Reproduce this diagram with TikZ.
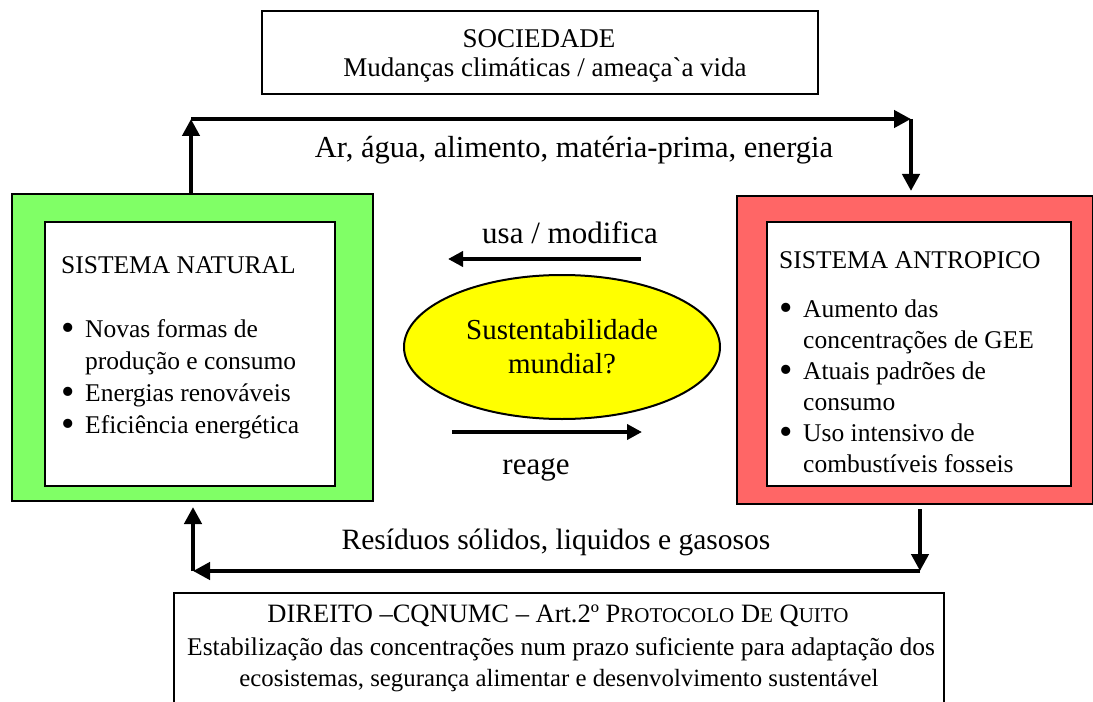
\documentclass[tikz,border=0pt]{standalone}
\usepackage{fontspec}
\setmainfont{Liberation Serif}
\usetikzlibrary{arrows.meta,shapes.geometric}
\definecolor{natgreen}{RGB}{128,255,102}
\definecolor{antred}{RGB}{255,102,102}
\definecolor{sustyellow}{RGB}{255,255,0}
\newcommand{\fsz}[2]{\fontsize{#1bp}{#2bp}\selectfont}
\newcommand{\minisc}[1]{{\fontsize{21bp}{21bp}\selectfont #1}}
\newcommand{\bigbul}{\raisebox{-3.2bp}[0pt][0pt]{\scalebox{1.5}{\textbullet}}}
\begin{document}
\begin{tikzpicture}[x=1bp,y=-1bp,
  box/.style={draw,line width=2bp,inner sep=0,anchor=north west},
  conn/.style={line width=4.5bp,-{Triangle[length=17bp,width=17bp]}},
  midarrow/.style={line width=4bp,-{Triangle[length=15bp,width=15bp]}},
  txt/.style={inner sep=0,anchor=base}]
\useasboundingbox (0,0) rectangle (1093,702);
\clip (0,0) rectangle (1093,702);
\fill[white] (0,0) rectangle (1093,702);

% boxes
\node[box,minimum width=556bp,minimum height=83bp] (soc) at (261,10) {};
\node[box,fill=natgreen,minimum width=361bp,minimum height=307bp] (nat) at (11,193) {};
\node[box,fill=white,minimum width=290bp,minimum height=264bp] (natin) at (44,221) {};
\node[box,fill=antred,minimum width=356bp,minimum height=308bp] (ant) at (736,195) {};
\node[box,fill=white,minimum width=304bp,minimum height=264bp] (antin) at (766,221) {};
\node[box,minimum width=770bp,minimum height=130bp] (dir) at (173,592) {};
\node[ellipse,draw,line width=2bp,fill=sustyellow,minimum width=316bp,minimum height=144bp,
      inner sep=0,align=center,font=\fsz{29}{34}] (sust) at (562,347) {Sustentabilidade\\mundial?};

% texts in boxes
\node[txt] (socT1) at (539,48) {\fsz{27}{30}SOCIEDADE};
\node[txt] (socT2) at (545,77) {\fsz{27}{30}Mudanças climáticas / ameaça\textasciigrave a vida};

\node[anchor=base west,inner sep=0] (natT) at (61,273) {\fsz{25.5}{32}%
\begin{tabular}[t]{@{}l@{}l@{}}
\multicolumn{2}{@{}l@{}}{SISTEMA NATURAL}\\[32bp]
\makebox[24bp][l]{\bigbul} & Novas formas de\\
 & produção e consumo\\
\bigbul & Energias renováveis\\
\bigbul & Eficiência energética
\end{tabular}};

\node[anchor=base west,inner sep=0] (antT) at (779,268) {\fsz{25.5}{31}%
\begin{tabular}[t]{@{}l@{}l@{}}
\multicolumn{2}{@{}l@{}}{SISTEMA ANTROPICO}\\[18bp]
\makebox[24bp][l]{\bigbul} & Aumento das\\
 & concentrações de GEE\\
\bigbul & Atuais padrões de\\
 & consumo\\
\bigbul & Uso intensivo de\\
 & combustíveis fosseis
\end{tabular}};

\node[txt] (dirT1) at (558,622) {\fsz{26.5}{32}DIREITO –CQNUMC – Art.2º P\minisc{ROTOCOLO} D\minisc{E} Q\minisc{UITO}};
\node[txt] (dirT2) at (561,655) {\fsz{25.5}{32}Estabilização das concentrações num prazo suficiente para adaptação dos};
\node[txt] (dirT3) at (559,686) {\fsz{24.8}{32}ecosistemas, segurança alimentar e desenvolvimento sustentável};

% connector labels
\node[txt] (flowT) at (574,158) {\fsz{30.5}{34}Ar, água, alimento, matéria-prima, energia};
\node[txt] (resT) at (556,549) {\fsz{29.5}{34}Resíduos sólidos, liquidos e gasosos};
\node[txt] (usaT) at (570,243) {\fsz{31}{34}usa / modifica};
\node[txt] (reaT) at (536,474) {\fsz{31}{34}reage};

% connectors
\coordinate (tl) at (191,119);
\coordinate (tr) at (911,119);
\coordinate (br) at (920,571);
\coordinate (bl) at (193,571);
\draw[conn] (nat.north -| tl) -- (tl);
\draw[conn] (tl) -- (tr);
\draw[conn,shorten >=4bp] (tr) -- (tr |- ant.north);
\draw[conn,shorten <=4bp] (ant.south -| br) -- (br);
\draw[conn] (br) -- (bl);
\draw[conn,shorten >=5bp] (bl) -- (bl |- nat.south);

\coordinate (umA) at (641,259);
\coordinate (umB) at (448,259);
\coordinate (rgA) at (452,432);
\coordinate (rgB) at (642,432);
\draw[midarrow] (umA) -- (umB);
\draw[midarrow] (rgA) -- (rgB);
\end{tikzpicture}
\end{document}
